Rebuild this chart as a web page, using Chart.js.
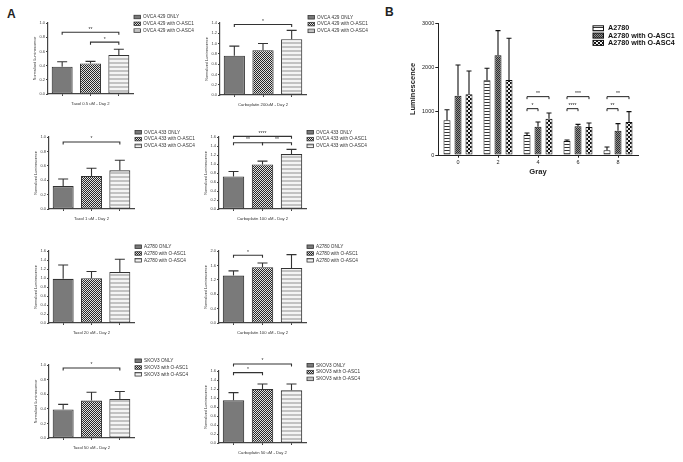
<!DOCTYPE html>
<html><head><meta charset="utf-8">
<script src="https://cdn.jsdelivr.net/npm/chart.js@4.4.0/dist/chart.umd.min.js"></script>
<style>
body{margin:0;background:#fff;width:683px;height:462px;position:relative;overflow:hidden;font-family:"Liberation Sans",Arial,sans-serif}
canvas{position:absolute}
.lbl{position:absolute;font-weight:bold;font-size:12px;line-height:12px;color:#222}
</style></head><body>
<div class="lbl" style="left:7px;top:8px">A</div>
<div class="lbl" style="left:385px;top:6px">B</div>
<script>
const FONT = '"Liberation Sans", Arial, sans-serif';

// ---------- Panel A data ----------
const ovca429Labels = ['OVCA 429 ONLY', 'OVCA 429 with O-ASC1', 'OVCA 429 with O-ASC4'];
const ovca433Labels = ['OVCA 433 ONLY', 'OVCA 433 with O-ASC1', 'OVCA 433 with O-ASC4'];
const a2780Labels   = ['A2780 ONLY', 'A2780 with O-ASC1', 'A2780 with O-ASC4'];
const skov3Labels   = ['SKOV3 ONLY', 'SKOV3 with O-ASC1', 'SKOV3 with O-ASC4'];

const taxol05Means = [0.385, 0.43, 0.55];
const taxol05Sem   = [0.07, 0.03, 0.08];
const taxol05Sig   = [[0, 2, 0.87, '**'], [1, 2, 0.73, '*']];

const carbo200Means = [0.765, 0.87, 1.086];
const carbo200Sem   = [0.185, 0.13, 0.17];
const carbo200Sig   = [[0, 2, 1.37, '*']];

const taxol1Means = [0.318, 0.458, 0.537];
const taxol1Sem   = [0.098, 0.107, 0.141];
const taxol1Sig   = [[0, 2, 0.93, '*']];

const carbo100_433Means = [0.722, 0.99, 1.22];
const carbo100_433Sem   = [0.111, 0.074, 0.104];
const carbo100_433Sig   = [[0, 2, 1.615, '****'], [0, 1, 1.473, '**'], [1, 2, 1.473, '**']];

const taxol20Means = [0.981, 0.995, 1.135];
const taxol20Sem   = [0.309, 0.148, 0.281];
const taxol20Sig   = [];

const carbo100_a2780Means = [1.318, 1.548, 1.53];
const carbo100_a2780Sem   = [0.129, 0.12, 0.368];
const carbo100_a2780Sig   = [[0, 1, 1.88, '*']];

const taxol50Means = [0.392, 0.512, 0.535];
const taxol50Sem   = [0.069, 0.115, 0.101];
const taxol50Sig   = [[0, 2, 0.958, '*']];

const carbo50Means = [0.948, 1.2, 1.17];
const carbo50Sem   = [0.171, 0.111, 0.141];
const carbo50Sig   = [[0, 2, 1.756, '*'], [0, 1, 1.563, '*']];

// ---------- Panel B data ----------
const grayDoses = ['0', '2', '4', '6', '8'];
const bSeries = ['A2780', 'A2780 with O-ASC1', 'A2780 with O-ASC4'];
const bA2780     = [788, 1697, 455, 318, 106];
const bA2780Sem  = [242, 273, 45, 23, 76];
const bAsc1      = [1348, 2265, 644, 652, 553];
const bAsc1Sem   = [697, 561, 106, 45, 159];
const bAsc4      = [1379, 1705, 826, 636, 750];
const bAsc4Sem   = [530, 947, 129, 91, 235];
// [category, from series, to series, value, label]
const bSig = [[2, 0, 1, 1053, '*'], [2, 0, 2, 1326, '**'],
              [3, 0, 1, 1053, '****'], [3, 0, 2, 1326, '***'],
              [4, 0, 1, 1053, '**'], [4, 0, 2, 1326, '**']];

// ---------- patterns ----------
function mkPat(w, h, fn) { const c = document.createElement('canvas'); c.width = w; c.height = h; const x = c.getContext('2d'); fn(x); return x.createPattern(c, 'repeat'); }
const solidA = '#7a7a7a';
const checkA = mkPat(2, 2, x => { x.fillStyle = '#e0e0e0'; x.fillRect(0, 0, 2, 2); x.fillStyle = '#262626'; x.fillRect(0, 0, 1, 1); x.fillRect(1, 1, 1, 1); });
const stripeA = mkPat(4, 4, x => { x.fillStyle = '#f4f4f4'; x.fillRect(0, 0, 4, 4); x.fillStyle = '#c2c2c2'; x.fillRect(0, 0, 4, 2); });
const stripeB = mkPat(3, 3, x => { x.fillStyle = '#fff'; x.fillRect(0, 0, 3, 3); x.fillStyle = '#333'; x.fillRect(0, 0, 3, 1); });
const hatchB = mkPat(2, 2, x => { x.fillStyle = '#8f8f8f'; x.fillRect(0, 0, 2, 2); x.fillStyle = '#2e2e2e'; x.fillRect(0, 0, 1, 1); x.fillRect(1, 1, 1, 1); });
const checkB = mkPat(4, 4, x => { x.fillStyle = '#f0f0f0'; x.fillRect(0, 0, 4, 4); x.fillStyle = '#111'; x.fillRect(0, 0, 2, 2); x.fillRect(2, 2, 2, 2); });

// ---------- plugins ----------
function errPlugin(o) {
  return { id: 'errbars', afterDatasetsDraw(chart) {
    const ctx = chart.ctx, y = chart.scales.y;
    chart.data.datasets.forEach((ds, di) => {
      chart.getDatasetMeta(di).data.forEach((el, i) => {
        const v = ds.data[i]; if (v == null) return;
        const top = y.getPixelForValue(v + ds.sem[i]);
        ctx.save(); ctx.strokeStyle = o.color; ctx.lineWidth = o.width;
        ctx.beginPath(); ctx.moveTo(el.x, el.y); ctx.lineTo(el.x, top);
        ctx.moveTo(el.x - o.cap, top); ctx.lineTo(el.x + o.cap, top); ctx.stroke(); ctx.restore();
      });
    });
  }};
}
function sigPlugin(o) {
  return { id: 'sig', afterDraw(chart) {
    const ctx = chart.ctx, y = chart.scales.y;
    o.items.forEach(it => {
      let x1, x2, v, t;
      if (o.grouped) { x1 = chart.getDatasetMeta(it[1]).data[it[0]].x; x2 = chart.getDatasetMeta(it[2]).data[it[0]].x; v = it[3]; t = it[4]; }
      else { const m = chart.getDatasetMeta(0).data; x1 = m[it[0]].x; x2 = m[it[1]].x; v = it[2]; t = it[3]; }
      const py = y.getPixelForValue(v);
      ctx.save(); ctx.strokeStyle = o.color; ctx.lineWidth = o.width;
      ctx.beginPath(); ctx.moveTo(x1, py + o.tip); ctx.lineTo(x1, py); ctx.lineTo(x2, py); ctx.lineTo(x2, py + o.tip); ctx.stroke();
      ctx.fillStyle = o.color; ctx.font = o.size + 'px ' + FONT; ctx.textAlign = 'center'; ctx.textBaseline = 'bottom';
      ctx.fillText(t, (x1 + x2) / 2, py - 0.5); ctx.restore();
    });
  }};
}
function legPlugin(o) {
  return { id: 'leg', afterDraw(chart) {
    const ctx = chart.ctx;
    o.labels.forEach((t, k) => {
      const yy = o.y0 + k * o.dy;
      ctx.save();
      ctx.fillStyle = o.fills[k]; ctx.fillRect(o.x, yy - o.bh / 2, o.bw, o.bh);
      ctx.strokeStyle = o.stroke; ctx.lineWidth = o.lw; ctx.strokeRect(o.x, yy - o.bh / 2, o.bw, o.bh);
      ctx.fillStyle = o.color; ctx.font = (o.bold ? 'bold ' : '') + o.size + 'px ' + FONT;
      ctx.textBaseline = 'middle'; ctx.textAlign = 'left';
      ctx.fillText(t, o.x + o.bw + o.gap, yy); ctx.restore();
    });
  }};
}

function addCanvas(l, t, w, h) {
  const c = document.createElement('canvas'); c.width = w; c.height = h;
  c.style.left = l + 'px'; c.style.top = t + 'px'; c.style.width = w + 'px'; c.style.height = h + 'px';
  document.body.appendChild(c); return c;
}

// ---------- Panel A builder ----------
function panelA(p) {
  const CL = p.aL - 40, CT = p.aT - 25, CW = p.aR + 75 - CL, CH = p.aB + 16 - CT;
  const cv = addCanvas(CL, CT, CW, CH);
  const axisC = '#444';
  new Chart(cv, {
    type: 'bar',
    data: { labels: ['', '', ''], datasets: [{ data: p.means, sem: p.sem,
      backgroundColor: [solidA, checkA, stripeA], borderColor: '#333', borderWidth: 1.1, borderSkipped: false,
      barPercentage: 0.74, categoryPercentage: 1 }] },
    options: {
      responsive: false, animation: false, devicePixelRatio: 1,
      layout: { padding: { left: 24.8, top: 25, right: 75, bottom: 0 } },
      plugins: { legend: { display: false }, tooltip: { enabled: false } },
      scales: {
        x: { grid: { drawOnChartArea: false, drawTicks: true, tickLength: 2, offset: false, color: axisC },
             border: { color: axisC, width: 1.2 }, ticks: { font: { size: 4, family: FONT } },
             title: { display: true, text: p.xTitle, color: '#333', font: { size: 4.2, family: FONT }, padding: { top: 0, bottom: 3.5 } },
             afterFit: s => { s.height = 16; } },
        y: { min: 0, max: p.max, ticks: { stepSize: p.step, callback: v => v.toFixed(1), font: { size: 4, family: FONT }, color: '#444', padding: 1 },
             grid: { drawOnChartArea: false, tickLength: 2, color: axisC }, border: { color: axisC, width: 1.2 },
             title: { display: true, text: 'Normalized Luminescence', color: '#333', font: { size: 3.7, family: FONT }, padding: { top: 0, bottom: 0 } },
             afterFit: s => { s.width = 15.2; } }
      }
    },
    plugins: [
      errPlugin({ color: '#333', width: 1.1, cap: 5 }),
      sigPlugin({ items: p.sig, grouped: false, color: '#333', width: 1.1, tip: 2.5, size: 5 }),
      legPlugin({ labels: p.labels, fills: [solidA, checkA, stripeA], x: p.legX - CL, y0: p.legY - CT, dy: 6.8,
                  bw: 6.5, bh: 3.5, gap: 2.5, size: 4.7, color: '#333', stroke: '#333', lw: 0.8, bold: false })
    ]
  });
}

panelA({ aL: 48, aT: 23, aR: 133, aB: 94, max: 1.0, step: 0.2, means: taxol05Means, sem: taxol05Sem, sig: taxol05Sig,
         labels: ovca429Labels, xTitle: 'Taxol 0.5 uM - Day 2', legX: 134, legY: 17 });
panelA({ aL: 220, aT: 23, aR: 306, aB: 95, max: 1.4, step: 0.2, means: carbo200Means, sem: carbo200Sem, sig: carbo200Sig,
         labels: ovca429Labels, xTitle: 'Carboplatin 200uM - Day 2', legX: 308, legY: 17.3 });
panelA({ aL: 49, aT: 137, aR: 134, aB: 209, max: 1.0, step: 0.2, means: taxol1Means, sem: taxol1Sem, sig: taxol1Sig,
         labels: ovca433Labels, xTitle: 'Taxol 1 uM - Day 2', legX: 135, legY: 132.3 });
panelA({ aL: 219, aT: 137, aR: 306, aB: 209, max: 1.6, step: 0.2, means: carbo100_433Means, sem: carbo100_433Sem, sig: carbo100_433Sig,
         labels: ovca433Labels, xTitle: 'Carboplatin 100 uM - Day 2', legX: 307, legY: 132.3 });
panelA({ aL: 49, aT: 251, aR: 134, aB: 323, max: 1.6, step: 0.2, means: taxol20Means, sem: taxol20Sem, sig: taxol20Sig,
         labels: a2780Labels, xTitle: 'Taxol 20 uM - Day 2', legX: 135, legY: 246.7 });
panelA({ aL: 219, aT: 251, aR: 306, aB: 323, max: 2.0, step: 0.4, means: carbo100_a2780Means, sem: carbo100_a2780Sem, sig: carbo100_a2780Sig,
         labels: a2780Labels, xTitle: 'Carboplatin 100 uM - Day 2', legX: 307, legY: 246.7 });
panelA({ aL: 49, aT: 365, aR: 134, aB: 438, max: 1.0, step: 0.2, means: taxol50Means, sem: taxol50Sem, sig: taxol50Sig,
         labels: skov3Labels, xTitle: 'Taxol 50 uM - Day 2', legX: 135, legY: 360.7 });
panelA({ aL: 219, aT: 371, aR: 306, aB: 443, max: 1.6, step: 0.2, means: carbo50Means, sem: carbo50Sem, sig: carbo50Sig,
         labels: skov3Labels, xTitle: 'Carboplatin 50 uM - Day 2', legX: 307, legY: 365.3 });

// ---------- Panel B ----------
(function () {
  const CL = 400, CT = 0, CW = 283, CH = 185;
  const cv = addCanvas(CL, CT, CW, CH);
  const axisC = '#222';
  const fills = [stripeB, hatchB, checkB];
  const base = { borderColor: '#111', borderWidth: 1, borderSkipped: false, barPercentage: 0.636, categoryPercentage: 0.825 };
  new Chart(cv, {
    type: 'bar',
    data: { labels: grayDoses, datasets: [
      Object.assign({ label: bSeries[0], data: bA2780, sem: bA2780Sem, backgroundColor: fills[0] }, base),
      Object.assign({ label: bSeries[1], data: bAsc1, sem: bAsc1Sem, backgroundColor: fills[1] }, base),
      Object.assign({ label: bSeries[2], data: bAsc4, sem: bAsc4Sem, backgroundColor: fills[2] }, base)
    ] },
    options: {
      responsive: false, animation: false, devicePixelRatio: 1,
      layout: { padding: { left: 8.8, top: 23, right: 45, bottom: 0 } },
      plugins: { legend: { display: false }, tooltip: { enabled: false } },
      scales: {
        x: { grid: { drawOnChartArea: false, tickLength: 2.7, offset: false, color: axisC },
             border: { color: axisC, width: 1 }, ticks: { font: { size: 5.5, family: FONT }, color: '#222', padding: 1.5 },
             title: { display: true, text: 'Gray', color: '#222', font: { size: 7.6, weight: 'bold', family: FONT }, padding: { top: 0, bottom: 8.7 } },
             afterFit: s => { s.height = 30; } },
        y: { min: 0, max: 3000, ticks: { stepSize: 1000, callback: v => String(v), font: { size: 5.5, family: FONT }, color: '#222', padding: 1 },
             grid: { drawOnChartArea: false, tickLength: 2.7, color: axisC }, border: { color: axisC, width: 1 },
             title: { display: true, text: 'Luminescence', color: '#222', font: { size: 7.5, weight: 'bold', family: FONT }, padding: { top: 0, bottom: 0 } },
             afterFit: s => { s.width = 29.2; } }
      }
    },
    plugins: [
      errPlugin({ color: '#111', width: 1.1, cap: 2.5 }),
      sigPlugin({ items: bSig, grouped: true, color: '#222', width: 1, tip: 2.5, size: 5 }),
      legPlugin({ labels: bSeries, fills: fills, x: 593 - CL, y0: 28.3 - CT, dy: 7.3,
                  bw: 10.5, bh: 5, gap: 4.5, size: 7.2, color: '#111', stroke: '#111', lw: 1, bold: true })
    ]
  });
})();
</script>
</body></html>
